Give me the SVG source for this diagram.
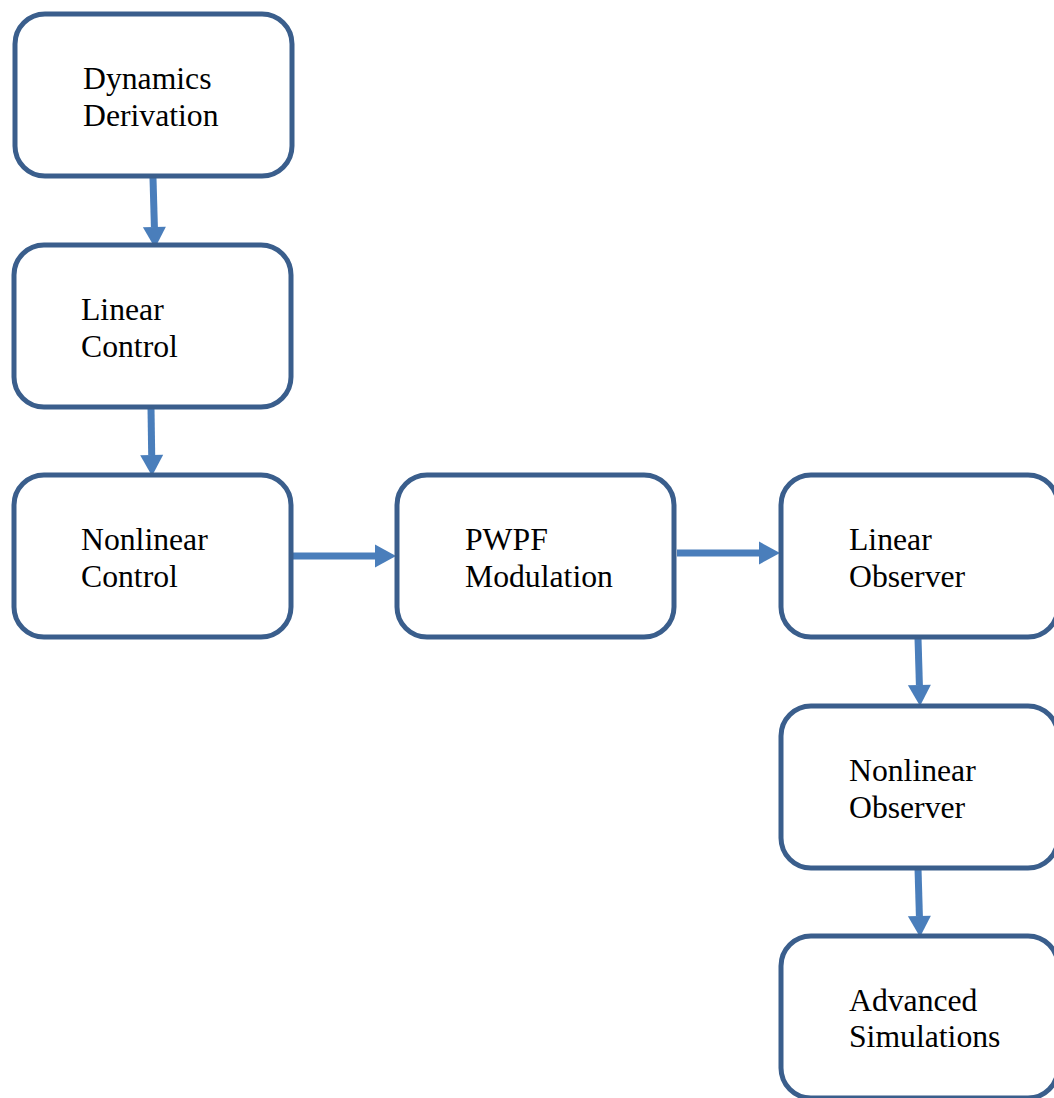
<svg xmlns="http://www.w3.org/2000/svg" width="1054" height="1098" viewBox="0 0 1054 1098">
<style>
.box{fill:#fff;stroke:#3A5E8C;stroke-width:5}
.lbl{font-family:"Liberation Serif","Times New Roman",serif;font-size:31.7px;fill:#000}
.conn{stroke:#4A7EBB;stroke-width:7;fill:none}
</style>
<defs>
<marker id="ah" markerUnits="userSpaceOnUse" markerWidth="22" markerHeight="24" refX="0" refY="11.5" orient="auto" overflow="visible">
<path d="M0,0 L21,11.5 L0,23 z" fill="#4A7EBB"/>
</marker>
</defs>
<rect width="1054" height="1098" fill="#fff"/>
<g id="connectors">
<line class="conn" x1="153" y1="178" x2="154.4" y2="227" marker-end="url(#ah)"/>
<line class="conn" x1="151" y1="408" x2="151.7" y2="455" marker-end="url(#ah)"/>
<line class="conn" x1="293" y1="556" x2="375" y2="556" marker-end="url(#ah)"/>
<line class="conn" x1="677" y1="553" x2="759" y2="553" marker-end="url(#ah)"/>
<line class="conn" x1="918" y1="638" x2="919.4" y2="685" marker-end="url(#ah)"/>
<line class="conn" x1="918" y1="868" x2="919.4" y2="916" marker-end="url(#ah)"/>
</g>
<g id="n1"><rect class="box" x="15" y="14" width="277" height="162" rx="30"/><text class="lbl" x="83" y="89">Dynamics</text><text class="lbl" x="83" y="126">Derivation</text></g>
<g id="n2"><rect class="box" x="14" y="245" width="277" height="162" rx="30"/><text class="lbl" x="81" y="320">Linear</text><text class="lbl" x="81" y="357">Control</text></g>
<g id="n3"><rect class="box" x="14" y="475" width="277" height="162" rx="30"/><text class="lbl" x="81" y="550">Nonlinear</text><text class="lbl" x="81" y="587">Control</text></g>
<g id="n4"><rect class="box" x="397" y="475" width="277" height="162" rx="30"/><text class="lbl" x="465" y="550">PWPF</text><text class="lbl" x="465" y="587">Modulation</text></g>
<g id="n5"><rect class="box" x="781" y="475" width="277" height="162" rx="30"/><text class="lbl" x="849" y="550">Linear</text><text class="lbl" x="849" y="587">Observer</text></g>
<g id="n6"><rect class="box" x="781" y="706" width="277" height="162" rx="30"/><text class="lbl" x="849" y="781">Nonlinear</text><text class="lbl" x="849" y="818">Observer</text></g>
<g id="n7"><rect class="box" x="781" y="936" width="277" height="162" rx="30"/><text class="lbl" x="849" y="1011">Advanced</text><text class="lbl" x="849" y="1047">Simulations</text></g>
</svg>
